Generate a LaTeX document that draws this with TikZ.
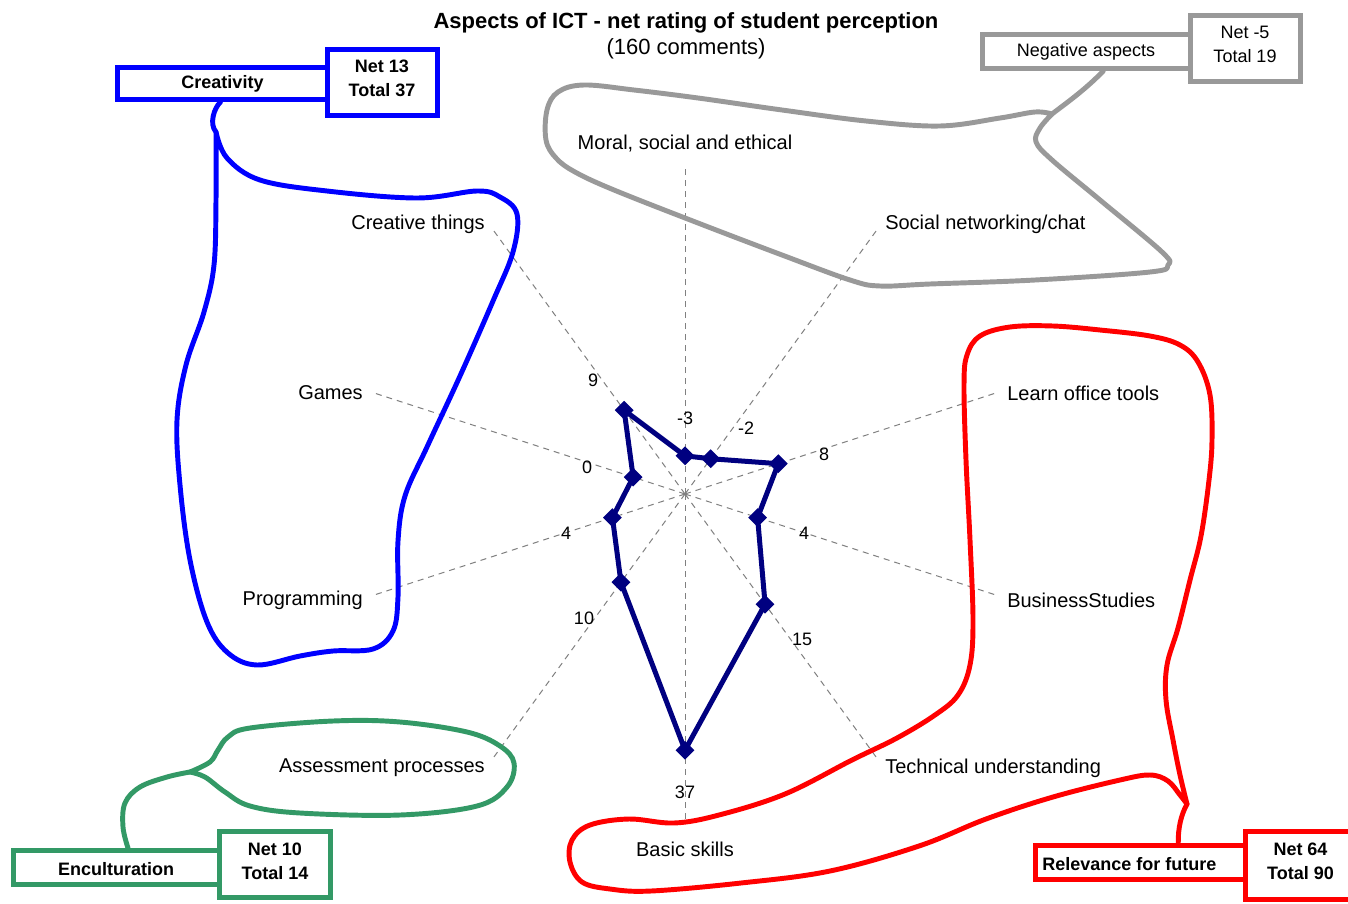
\documentclass[tikz,border=0pt]{standalone}
\usepackage{fontspec}
\setmainfont{Liberation Sans}
\usetikzlibrary{shapes.geometric}
\definecolor{crblue}{RGB}{0,0,255}
\definecolor{neggray}{RGB}{153,153,153}
\definecolor{encgreen}{RGB}{51,153,102}
\definecolor{relred}{RGB}{255,0,0}
\definecolor{radarnavy}{RGB}{0,0,128}
\definecolor{axisgray}{RGB}{128,128,128}
\newcommand\pxu{0.75pt}
\pgfdeclarelayer{under}
\pgfsetlayers{under,main}

\begin{document}
\begin{tikzpicture}[x=0.75pt,y=-0.75pt,
  axisline/.style={draw=axisgray, line width=0.75pt, dash pattern=on 4.5pt off 3.75pt},
  axislabel/.style={font=\fontsize{15}{18}\selectfont, inner sep=0pt},
  vallabel/.style={font=\fontsize{13.5}{16}\selectfont, inner sep=0pt},
  marker/.style={diamond, fill=radarnavy, inner sep=0pt, minimum size=19*\pxu},
  radarline/.style={draw=radarnavy, line width=3.75pt, line join=round},
  tagbox/.style={draw=#1, line width=3.75pt, fill=white, inner sep=0pt},
  blob/.style={draw=#1, line width=3.7pt, line cap=round, line join=round},
  boldtext/.style={font=\fontsize{13.5}{18}\selectfont\bfseries, align=center, inner sep=0pt},
  plaintext/.style={font=\fontsize{13.5}{18}\selectfont, align=center, inner sep=0pt},
]
\useasboundingbox (0,0) rectangle (1348,903);

% ---- title ----
\node[font=\fontsize{16.5}{20}\selectfont\bfseries, inner sep=0pt] (title) at (686,22.5)
  {Aspects of ICT - net rating of student perception};
\node[font=\fontsize{16.5}{20}\selectfont, inner sep=0pt] (subtitle) at (686,48.5) {(160 comments)};

% ---- radar geometry: 10 spokes, radius 327 px for the range -10..50 ----
\coordinate (c) at (685,494);
\foreach \i/\v in {0/-3,1/-2,2/8,3/4,4/15,5/37,6/10,7/4,8/0,9/9}{
  \coordinate (ax\i) at ({685+327*sin(36*\i)},{494-327*cos(36*\i)});
  \coordinate (p\i) at ({685+5.45*(\v+10)*sin(36*\i)},{494-5.45*(\v+10)*cos(36*\i)});
}

% data polygon and markers
\draw[radarline] (p0) -- (p1) -- (p2) -- (p3) -- (p4) -- (p5) -- (p6) -- (p7) -- (p8) -- (p9) -- cycle;
\foreach \i in {0,...,9}{ \node[marker] (m\i) at (p\i) {}; }

% value labels
\node[vallabel] (v0) at (685,418) {-3};
\node[vallabel] (v1) at (746,428) {-2};
\node[vallabel] (v2) at (824,454) {8};
\node[vallabel] (v3) at (804,533) {4};
\node[vallabel] (v4) at (802,639) {15};
\node[vallabel] (v5) at (685,792) {37};
\node[vallabel] (v6) at (584,618) {10};
\node[vallabel] (v7) at (566,533) {4};
\node[vallabel] (v8) at (587,467) {0};
\node[vallabel] (v9) at (593,380) {9};

% category labels
\node[axislabel] (l0) at (685,144) {Moral, social and ethical};
\node[axislabel, anchor=west] (l1) at (885,224) {Social networking/chat};
\node[axislabel, anchor=west] (l2) at (1007,393) {Learn office tools};
\node[axislabel, anchor=west] (l3) at (1007,600) {BusinessStudies};
\node[axislabel, anchor=west] (l4) at (885,768) {Technical understanding};
\node[axislabel] (l5) at (685,849) {Basic skills};
\node[axislabel, anchor=east] (l6) at (485,768) {Assessment processes};
\node[axislabel, anchor=east] (l7) at (363,600) {Programming};
\node[axislabel, anchor=east] (l8) at (363,393) {Games};
\node[axislabel, anchor=east] (l9) at (485,224) {Creative things};

% ---- group boxes ----
\node[tagbox=crblue, minimum width=210*\pxu, minimum height=32*\pxu] (cre) at (222.5,83.5) {};
\node[tagbox=crblue, minimum width=109.5*\pxu, minimum height=66*\pxu] (crenet) at (382.25,82.5) {};
\node[boldtext] (cretext) at (222.5,84) {Creativity};
\node[boldtext] (crenettext) at (382,78) {Net 13\\Total 37};

\node[tagbox=neggray, minimum width=207.5*\pxu, minimum height=34*\pxu] (neg) at (1086.25,51.5) {};
\node[tagbox=neggray, minimum width=110.5*\pxu, minimum height=66.5*\pxu] (negnet) at (1245.25,48.25) {};
\node[plaintext] (negtext) at (1086,52) {Negative aspects};
\node[plaintext] (negnettext) at (1245,44) {Net -5\\Total 19};

\node[tagbox=encgreen, minimum width=206*\pxu, minimum height=33.5*\pxu] (enc) at (116,867.25) {};
\node[tagbox=encgreen, minimum width=111.5*\pxu, minimum height=66*\pxu] (encnet) at (274.75,864.5) {};
\node[boldtext] (enctext) at (116,869) {Enculturation};
\node[boldtext] (encnettext) at (275,861) {Net 10\\Total 14};

\node[tagbox=relred, minimum width=209.5*\pxu, minimum height=34*\pxu] (rel) at (1140.25,862.5) {};
\node[tagbox=relred, minimum width=111*\pxu, minimum height=67.5*\pxu] (relnet) at (1300.5,865.25) {};
\node[boldtext, anchor=west] (reltext) at (1042,864) {Relevance for future};
\node[boldtext] (relnettext) at (1300.5,861) {Net 64\\Total 90};

% ---- spokes and freehand groupings, underneath everything ----
\begin{pgfonlayer}{under}
\fill[white] (0,0) rectangle (1348,903);
\foreach \i in {0,...,9}{ \draw[axisline] (c) -- (ax\i); }

% Creativity
\coordinate (crj) at (216,132);
\draw[blob=crblue] ([xshift=-1.5pt]cre.south) .. controls (214,108) and (209,124) .. (crj);
\draw[blob=crblue] plot[smooth, tension=0.6] coordinates {
  (crj) (216,200) (214,265) (204,312) (186,365) (177,420) (180,485) (190,560)
  (207,622) (228,653) (257,665) (300,656) (333,651) (373,649) (393,631) (398,597)
  (398,541) (405,496) (427,447) (460,376) (493,301) (513,252) (517,214) (500,197)
  (477,191) (417,198) (327,191) (260,180) (227,158) (crj)};

% Negative aspects
\coordinate (negj) at (1052,114);
\draw[blob=neggray] ([xshift=12.75pt]neg.south) .. controls (1085,90) and (1065,104) .. (negj);
\draw[blob=neggray] plot[smooth, tension=0.6] coordinates {
  (negj) (1035,112) (1000,118) (940,126) (866,121) (782,110) (698,98) (634,90)
  (584,85) (558,92) (547,110) (546,140) (556,158) (575,172) (614,190) (698,223)
  (782,255) (850,280) (880,286) (930,284) (1035,280) (1150,272) (1168,265)
  (1162,252) (1100,200) (1052,160) (1036,142) (1040,128) (negj)};

% Relevance for future
\coordinate (relj) at (1187,804);
\draw[blob=relred] ([xshift=28.5pt]rel.north) .. controls (1178,828) and (1181,815) .. (relj);
\draw[blob=relred] plot[smooth, tension=0.6] coordinates {
  (relj) (1180,775) (1173,740) (1166,700) (1167,665) (1178,628) (1190,580)
  (1201,536) (1209,480) (1212,440) (1210,395) (1198,362) (1180,345) (1150,336)
  (1100,330) (1053,326) (1010,327) (980,336) (967,355) (964,385) (966,460)
  (970,540) (973,620) (970,665) (958,695) (935,715) (897,738) (852,760) (785,794)
  (719,815) (674,823) (629,819) (590,825) (572,840) (570,862) (582,882) (610,889)
  (651,891) (741,883) (830,871) (919,846) (986,819) (1053,797) (1120,780)
  (1150,775) (1168,781) (1180,795) (relj)};

% Enculturation
\coordinate (encj) at (190,772);
\coordinate (encs) at ([xshift=9pt]enc.north);
\draw[blob=encgreen] plot[smooth, tension=0.6] coordinates {
  (encs) (123,827) (125,803) (140,787) (167,777) (encj)};
\draw[blob=encgreen] plot[smooth, tension=0.6] coordinates {
  (encj) (210,762) (218,750) (228,737) (250,728) (333,721) (400,722) (467,732)
  (500,746) (514,763) (507,787) (477,806) (400,815) (300,813) (250,806)
  (225,792) (205,777) (encj)};
\end{pgfonlayer}
\end{tikzpicture}
\end{document}
